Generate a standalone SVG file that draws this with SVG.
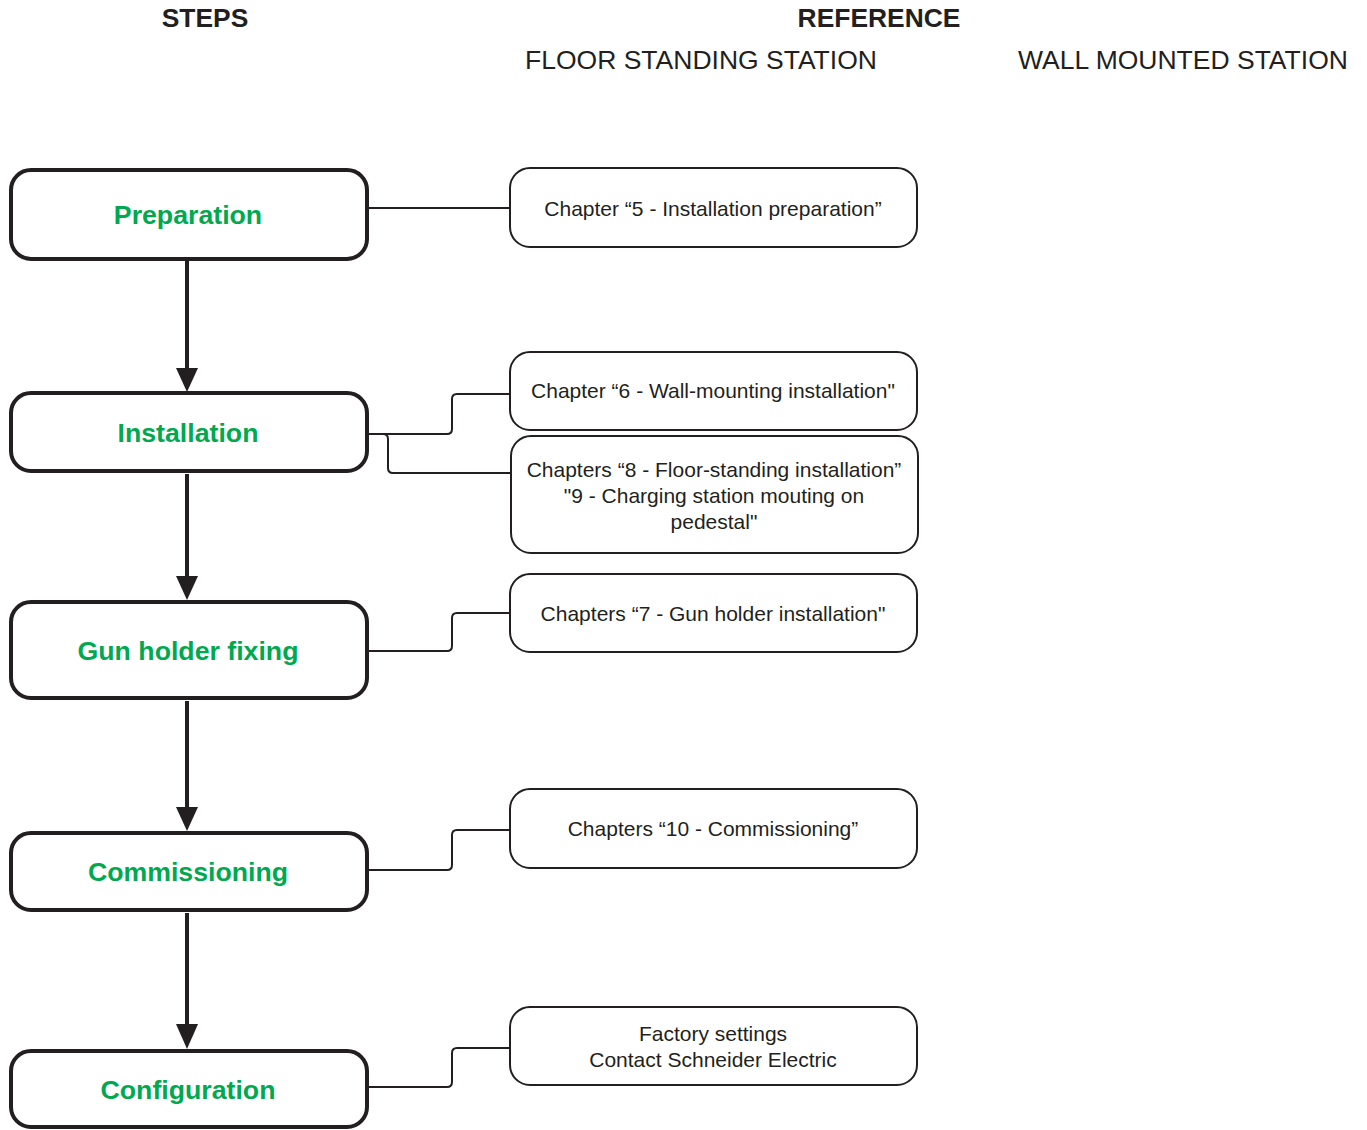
<svg xmlns="http://www.w3.org/2000/svg" width="1367" height="1130" viewBox="0 0 1367 1130">
<style>
.hdrb{font-family:"Liberation Sans",Arial,sans-serif;font-weight:bold;font-size:26.4px;fill:#231f20;text-anchor:middle}
.hdr{font-family:"Liberation Sans",Arial,sans-serif;font-size:26.5px;fill:#231f20;text-anchor:middle}
.step rect{fill:#fff;stroke:#231f20;stroke-width:4}
.step text{font-family:"Liberation Sans",Arial,sans-serif;font-weight:bold;font-size:26.7px;fill:#00a94f;text-anchor:middle}
.ref rect{fill:#fff;stroke:#231f20;stroke-width:2}
.ref text{font-family:"Liberation Sans",Arial,sans-serif;font-size:21px;fill:#231f20;text-anchor:middle}
.conn{fill:none;stroke:#231f20;stroke-width:2}
.arrow{fill:none;stroke:#231f20;stroke-width:4}
.head{fill:#231f20}
</style>
<rect width="1367" height="1130" fill="#fff"/>
<g id="headers">
<text class="hdrb" x="205" y="27">STEPS</text>
<text class="hdrb" x="879" y="27">REFERENCE</text>
<text class="hdr" x="701" y="69">FLOOR STANDING STATION</text>
<text class="hdr" x="1183" y="69">WALL MOUNTED STATION</text>
</g>
<g id="connectors">
<path class="arrow" d="M187,261 V372"/>
<path class="head" d="M176,368 L198,368 L187,392 Z"/>
<path class="arrow" d="M187,474 V580"/>
<path class="head" d="M176,576 L198,576 L187,600 Z"/>
<path class="arrow" d="M187,701 V811"/>
<path class="head" d="M176,807 L198,807 L187,831 Z"/>
<path class="arrow" d="M187,913 V1028"/>
<path class="head" d="M176,1024 L198,1024 L187,1049 Z"/>
<path class="conn" d="M369,208 H510"/>
<path class="conn" d="M369,434 H447 Q452,434 452,429 V399 Q452,394 457,394 H510"/>
<path class="conn" d="M369,434 H383 Q388,434 388,439 V468 Q388,473 393,473 H511"/>
<path class="conn" d="M369,651 H447 Q452,651 452,646 V618 Q452,613 457,613 H510"/>
<path class="conn" d="M369,870 H447 Q452,870 452,865 V835 Q452,830 457,830 H510"/>
<path class="conn" d="M369,1087 H447 Q452,1087 452,1082 V1053 Q452,1048 457,1048 H510"/>
</g>
<g id="step-preparation" class="step">
<rect x="11" y="170" width="356" height="89" rx="20"/>
<text x="188" y="224">Preparation</text>
</g>
<g id="step-installation" class="step">
<rect x="11" y="393" width="356" height="78" rx="20"/>
<text x="188" y="442">Installation</text>
</g>
<g id="step-gunholder" class="step">
<rect x="11" y="602" width="356" height="96" rx="20"/>
<text x="188" y="660">Gun holder fixing</text>
</g>
<g id="step-commissioning" class="step">
<rect x="11" y="833" width="356" height="77" rx="20"/>
<text x="188" y="881">Commissioning</text>
</g>
<g id="step-configuration" class="step">
<rect x="11" y="1051" width="356" height="76" rx="20"/>
<text x="188" y="1099">Configuration</text>
</g>
<g id="ref-prep" class="ref">
<rect x="510" y="168" width="407" height="79" rx="20"/>
<text x="713" y="216">Chapter “5 - Installation preparation”</text>
</g>
<g id="ref-wall" class="ref">
<rect x="510" y="352" width="407" height="78" rx="20"/>
<text x="713" y="398">Chapter “6 - Wall-mounting installation"</text>
</g>
<g id="ref-floor" class="ref">
<rect x="511" y="436" width="407" height="117" rx="20"/>
<text x="714" y="477">Chapters “8 - Floor-standing installation”</text>
<text x="714" y="503">"9 - Charging station mouting on</text>
<text x="714" y="529">pedestal"</text>
</g>
<g id="ref-gun" class="ref">
<rect x="510" y="574" width="407" height="78" rx="20"/>
<text x="713" y="621">Chapters “7 - Gun holder installation"</text>
</g>
<g id="ref-comm" class="ref">
<rect x="510" y="789" width="407" height="79" rx="20"/>
<text x="713" y="836">Chapters “10 - Commissioning”</text>
</g>
<g id="ref-config" class="ref">
<rect x="510" y="1007" width="407" height="78" rx="20"/>
<text x="713" y="1041">Factory settings</text>
<text x="713" y="1067">Contact Schneider Electric</text>
</g>
</svg>
